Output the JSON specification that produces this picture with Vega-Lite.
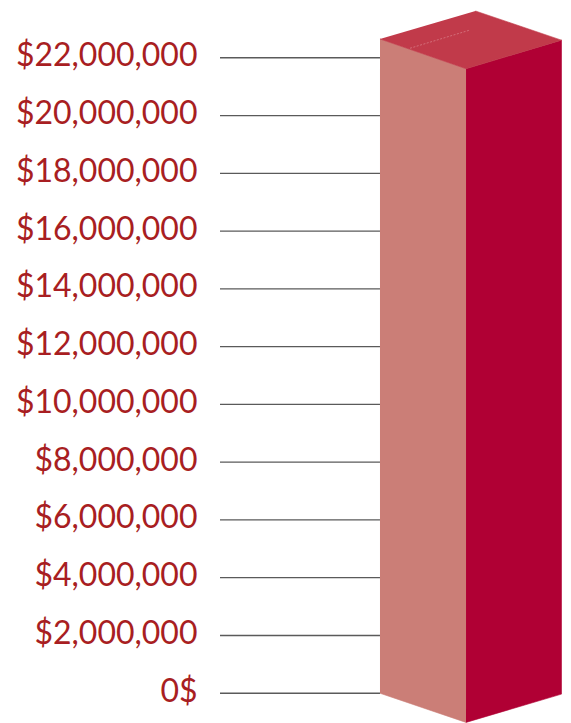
{
  "$schema": "https://vega.github.io/schema/vega-lite/v6.json",
  "width": 351,
  "height": 723,
  "autosize": {"type": "none"},
  "padding": {"left": 220, "top": 0, "right": 0, "bottom": 0},
  "background": "white",
  "config": {"view": {"stroke": null}},
  "datasets": {
    "ticks": [
      {"value": 0}, {"value": 2000000}, {"value": 4000000}, {"value": 6000000},
      {"value": 8000000}, {"value": 10000000}, {"value": 12000000}, {"value": 14000000},
      {"value": 16000000}, {"value": 18000000}, {"value": 20000000}, {"value": 22000000}
    ],
    "box": [
      {"face": "left", "i": 0, "depth": 45.58, "value": 0},
      {"face": "left", "i": 1, "depth": 70.09, "value": -1010000},
      {"face": "left", "i": 2, "depth": 70.09, "value": 21620000},
      {"face": "left", "i": 3, "depth": 45.58, "value": 22650000},
      {"face": "right", "i": 0, "depth": 70.09, "value": -1010000},
      {"face": "right", "i": 1, "depth": 97.29, "value": -30000},
      {"face": "right", "i": 2, "depth": 97.29, "value": 22610000},
      {"face": "right", "i": 3, "depth": 70.09, "value": 21620000},
      {"face": "top", "i": 0, "depth": 45.58, "value": 22650000},
      {"face": "top", "i": 1, "depth": 70.09, "value": 21620000},
      {"face": "top", "i": 2, "depth": 97.29, "value": 22610000},
      {"face": "top", "i": 3, "depth": 72.78, "value": 23620000}
    ],
    "glint": [
      {"i": 0, "depth": 54.13, "value": 22330000},
      {"i": 1, "depth": 70.94, "value": 22950000}
    ]
  },
  "layer": [
    {
      "data": {"name": "ticks"},
      "mark": {"type": "rule", "color": "#5a5a5a", "strokeWidth": 1.3},
      "encoding": {
        "x": {"datum": 0, "type": "quantitative", "scale": {"domain": [0, 100], "nice": false, "zero": false}, "axis": null},
        "x2": {"datum": 45.58},
        "y": {
          "field": "value", "type": "quantitative",
          "scale": {"domain": [-1030000, 24000000], "nice": false, "zero": false},
          "axis": {
            "orient": "left",
            "domain": false,
            "ticks": false,
            "grid": false,
            "title": null,
            "values": [0, 2000000, 4000000, 6000000, 8000000, 10000000, 12000000, 14000000, 16000000, 18000000, 20000000, 22000000],
            "labelExpr": "datum.value == 0 ? '0$' : '$' + format(datum.value, ',')",
            "labelFont": "Lato",
            "labelFontSize": 32,
            "labelColor": "#a81e22",
            "labelPadding": 23,
            "labelLimit": 300,
            "labelBaseline": "middle",
            "labelOffset": -2
          }
        }
      }
    },
    {
      "data": {"name": "box"},
      "mark": {"type": "line", "strokeWidth": 0.6, "interpolate": "linear"},
      "encoding": {
        "x": {"field": "depth", "type": "quantitative"},
        "y": {"field": "value", "type": "quantitative"},
        "order": {"field": "i", "type": "quantitative"},
        "detail": {"field": "face"},
        "fill": {"field": "face", "type": "nominal", "scale": {"domain": ["left", "right", "top"], "range": ["#cb7e77", "#b00034", "#c13a4a"]}, "legend": null},
        "stroke": {"field": "face", "type": "nominal", "scale": {"domain": ["left", "right", "top"], "range": ["#cb7e77", "#b00034", "#c13a4a"]}, "legend": null}
      }
    },
    {
      "data": {"name": "glint"},
      "mark": {"type": "line", "color": "#d77a84", "strokeWidth": 0.8, "strokeDash": [2, 1.5]},
      "encoding": {
        "x": {"field": "depth", "type": "quantitative"},
        "y": {"field": "value", "type": "quantitative"},
        "order": {"field": "i", "type": "quantitative"}
      }
    }
  ]
}
